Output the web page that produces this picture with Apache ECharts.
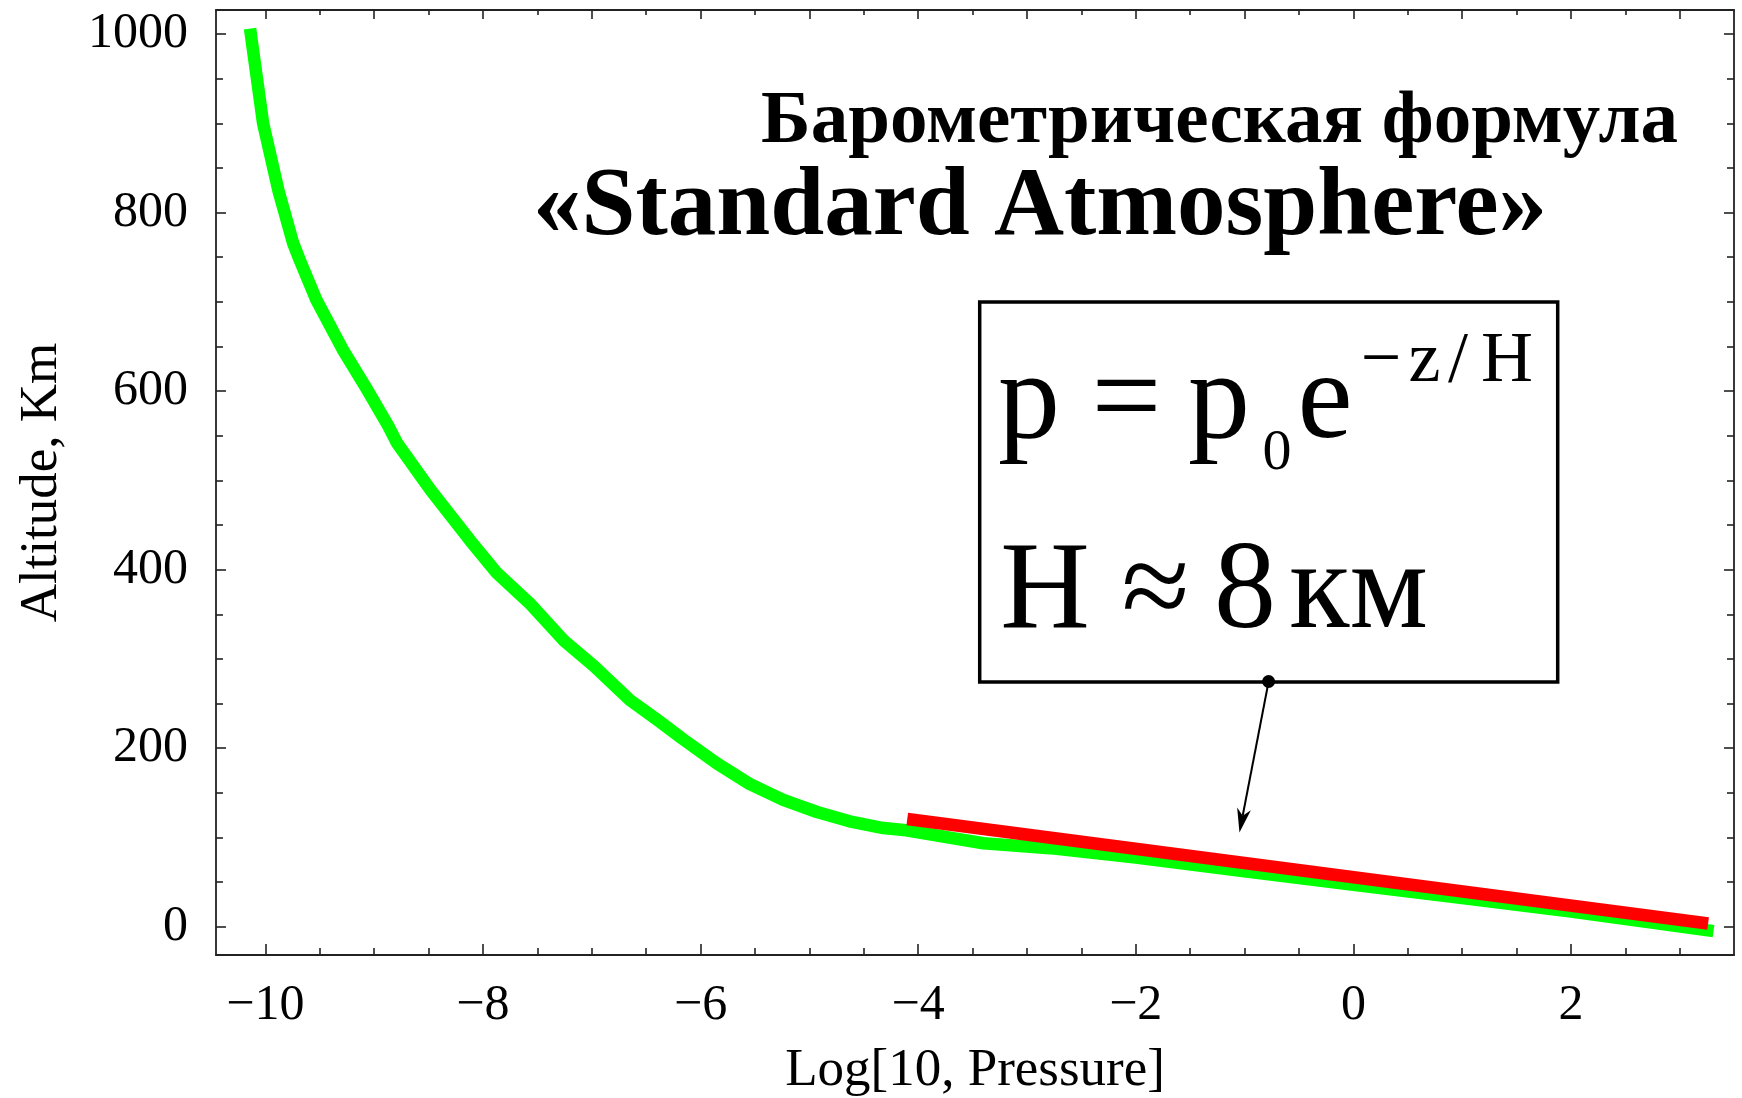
<!DOCTYPE html>
<html><head><meta charset="utf-8">
<script src="https://cdn.jsdelivr.net/npm/echarts@6/dist/echarts.min.js"></script>
<style>html,body{margin:0;padding:0;background:#fff}#c{width:1742px;height:1098px}</style>
</head><body><div id="c"></div>
<script>
// ---- data ----
const greenLogP = [-10.14, -10.02, -9.88, -9.745, -9.684, -9.53, -9.29, -9.07, -8.87, -8.79, -8.48, -8.12, -7.87, -7.56, -7.26, -6.98, -6.65, -6.40, -6.16, -5.85, -5.55, -5.24, -4.93, -4.63, -4.32, -4.11, -3.40, -2.79, -2.0, -1.0, 0.0, 1.0, 2.0, 3.31];
const greenAlt  = [1006, 900, 825, 766, 747, 702, 647, 603, 561, 542, 489, 433, 396, 361, 321, 292, 254, 232, 210, 183, 160, 142, 128.5, 118, 110.5, 108, 93.5, 88, 77.5, 62, 47, 32, 17, -5];
const redLogP = [-4.10, 3.26];
const redAlt  = [120.7, 3.6];
const arrowFrom = [-0.779, 274.7];
const arrowTo   = [-1.047, 105.6];
const xTickLabels = [-10, -8, -6, -4, -2, 0, 2];
const yTickLabels = [0, 200, 400, 600, 800, 1000];
const xTopMajor = [-10, -9, -8, -7, -6, -5, -4, -3, -2, -1, 0, 1, 2, 3];
const titleLine1 = 'Барометрическая формула';
const titleLine2 = '«Standard Atmosphere»';
const xName = 'Log[10, Pressure]';
const yName = 'Altitude, Km';

const X_MIN = -10.453, X_MAX = 3.498, Y_MIN = -31.7, Y_MAX = 1026.9;
const FONT = '"Liberation Serif", "Times New Roman", serif';
const AX = '#222';
const MID = 0.28; // baseline -> 'middle' offset factor

function halves(lo, hi, skip) { const r = []; for (let v = lo; v <= hi + 1e-9; v += 0.5) { const k = Math.round(v * 2) / 2; if (!skip.includes(k)) r.push(k); } return r; }
function steps(lo, hi, st, skip) { const r = []; for (let v = lo; v <= hi + 1e-9; v += st) { if (!skip.includes(v)) r.push(v); } return r; }
const xBottomMinor = halves(-10.5, 3.5, xTickLabels).filter(v => v > X_MIN && v < X_MAX);
const xTopMinor = halves(-10.5, 3.5, xTopMajor).filter(v => v > X_MIN && v < X_MAX);
const yMinor = steps(0, 1000, 50, yTickLabels);
const fmt = v => String(v).replace('-', '\u2212');

function makeAxis(kind, pos, ticks, len, showLine, extra) {
  const a = {
    type: 'value', position: pos, gridIndex: 0,
    min: kind === 'x' ? X_MIN : Y_MIN, max: kind === 'x' ? X_MAX : Y_MAX,
    axisLine: { show: showLine, onZero: false, lineStyle: { color: AX, width: 1.8 } },
    axisTick: { show: true, inside: true, length: len, customValues: ticks, lineStyle: { color: AX, width: 1.6 } },
    axisLabel: { show: false }, splitLine: { show: false }, minorTick: { show: false }
  };
  return Object.assign(a, extra || {});
}

const chart = echarts.init(document.getElementById('c'), null, { renderer: 'canvas' });
const txt = (x, base, size, s, align, weight) => ({
  type: 'text', x: x, y: base - MID * size, z: 20,
  style: { text: s, font: (weight ? weight + ' ' : '') + size + 'px ' + FONT, fill: '#000', align: align || 'center', verticalAlign: 'middle' }
});
const option = {
  animation: false,
  backgroundColor: '#fff',
  grid: { left: 216, top: 10, width: 1518, height: 945, containLabel: false, outerBoundsMode: 'none' },
  xAxis: [
    makeAxis('x', 'bottom', xTickLabels, 11, true, {
      axisLabel: { show: true, customValues: xTickLabels, formatter: fmt, margin: 26, color: '#000', fontFamily: FONT, fontSize: 50 },
      name: xName, nameLocation: 'middle', nameGap: 90,
      nameTextStyle: { color: '#000', fontFamily: FONT, fontSize: 53 }
    }),
    makeAxis('x', 'bottom', xBottomMinor, 7, false),
    makeAxis('x', 'top', xTopMajor, 9, true),
    makeAxis('x', 'top', xTopMinor, 5, false)
  ],
  yAxis: [
    makeAxis('y', 'left', yTickLabels, 10, true, {
      axisLabel: { show: true, customValues: yTickLabels, formatter: fmt, margin: 28, color: '#000', fontFamily: FONT, fontSize: 50 },
      name: yName, nameLocation: 'middle', nameGap: 147, nameRotate: 90,
      nameTextStyle: { color: '#000', fontFamily: FONT, fontSize: 53 }
    }),
    makeAxis('y', 'left', yMinor, 7, false),
    makeAxis('y', 'right', yTickLabels, 10, true),
    makeAxis('y', 'right', yMinor, 7, false)
  ],
  series: [
    {
      type: 'line', xAxisIndex: 0, yAxisIndex: 0, silent: true, symbol: 'none', smooth: false, z: 2,
      data: greenLogP.map((x, i) => [x, greenAlt[i]]),
      lineStyle: { color: '#00ff00', width: 12.5, cap: 'butt', join: 'round' }
    },
    {
      type: 'line', xAxisIndex: 0, yAxisIndex: 0, silent: true, symbol: 'none', z: 3,
      data: redLogP.map((x, i) => [x, redAlt[i]]),
      lineStyle: { color: '#ff0000', width: 12.5, cap: 'butt' }
    },
    {
      type: 'custom', xAxisIndex: 0, yAxisIndex: 0, silent: true, z: 5,
      encode: { x: [0, 2], y: [1, 3] },
      data: [[arrowFrom[0], arrowFrom[1], arrowTo[0], arrowTo[1]]],
      renderItem: function (params, api) {
        const p0 = api.coord([api.value(0), api.value(1)]);
        const p1 = api.coord([api.value(2), api.value(3)]);
        const dx = p1[0] - p0[0], dy = p1[1] - p0[1], L = Math.hypot(dx, dy);
        const ux = dx / L, uy = dy / L, nx = -uy, ny = ux;
        const headLen = 24, headW = 7, back = 17;
        const base = [p1[0] - ux * headLen, p1[1] - uy * headLen];
        const notch = [p1[0] - ux * back, p1[1] - uy * back];
        return { type: 'group', children: [
          { type: 'line', shape: { x1: p0[0], y1: p0[1], x2: notch[0], y2: notch[1] }, style: { stroke: '#000', lineWidth: 2 } },
          { type: 'polygon', shape: { points: [p1, [base[0] + nx * headW, base[1] + ny * headW], notch, [base[0] - nx * headW, base[1] - ny * headW]] }, style: { fill: '#000' } },
          { type: 'circle', shape: { cx: p0[0], cy: p0[1], r: 6.5 }, style: { fill: '#000' } }
        ] };
      }
    }
  ],
  graphic: [
    txt(1678, 143.5, 75, titleLine1, 'right', 'bold'),
    txt(533, 236, 97, titleLine2, 'left', 'bold'),
    { type: 'rect', shape: { x: 979.7, y: 302, width: 578, height: 380 }, style: { fill: 'none', stroke: '#000', lineWidth: 3.5 }, z: 10 },
    // line 1: p = p0 e^{-z/H}
    txt(1029, 439, 124, 'p'),
    txt(1126.5, 439, 124, '='),
    txt(1219, 439, 124, 'p'),
    txt(1277, 470, 58, '0'),
    txt(1325, 439, 124, 'e'),
    txt(1381, 382, 72, '\u2212'),
    txt(1424.5, 382, 72, 'z'),
    txt(1458, 382, 72, '/'),
    txt(1507, 382, 72, 'H'),
    // line 2: H ≈ 8 км
    txt(1045, 629, 124, 'H'),
    txt(1155.5, 629, 124, '\u2248'),
    txt(1245, 629, 124, '8'),
    txt(1358.5, 629, 124, 'км')
  ]
};
chart.setOption(option);
</script>
</body></html>
